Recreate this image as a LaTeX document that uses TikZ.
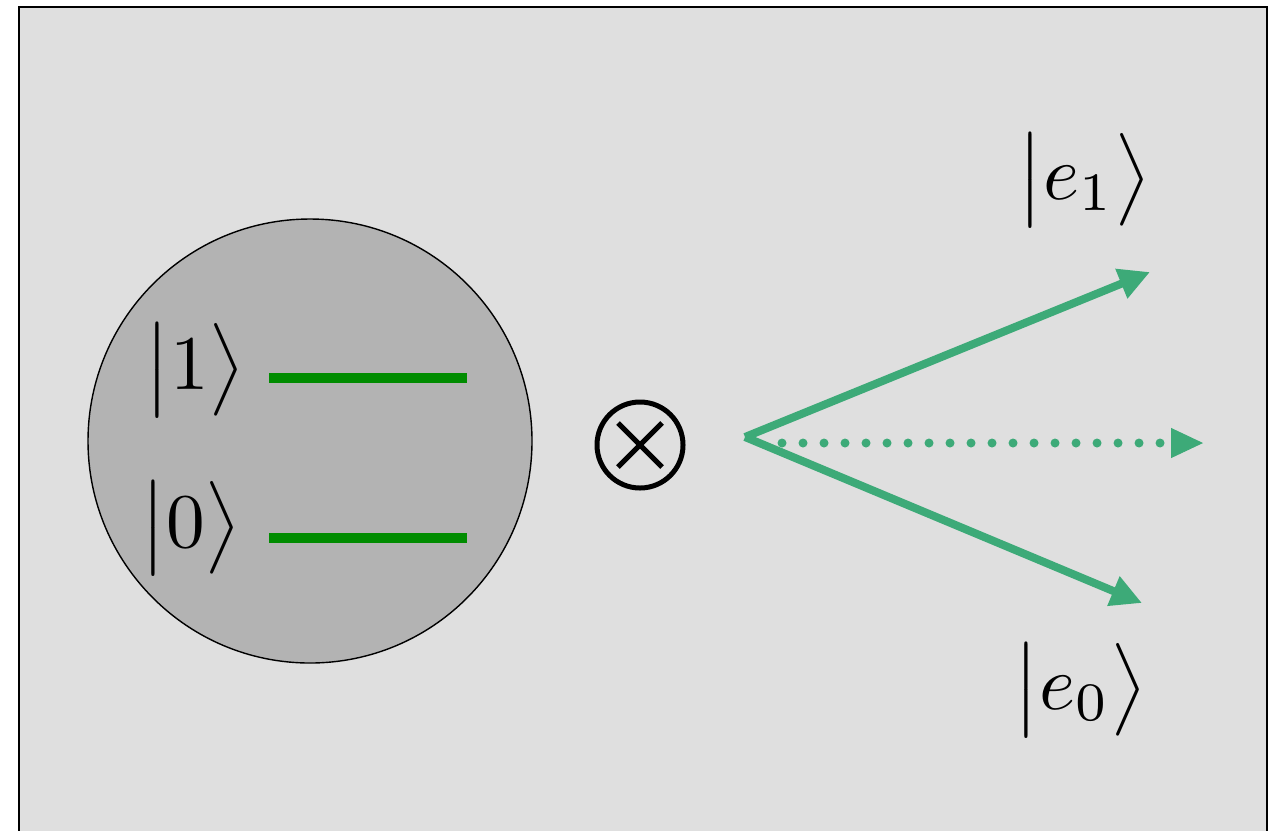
\documentclass[tikz,border=0pt]{standalone}
\usepackage{amsmath}
\usepackage{xcolor}
\usepackage{tikz}
\usetikzlibrary{positioning,calc,arrows.meta}
\definecolor{panel}{HTML}{DFDFDF}
\definecolor{atomgray}{HTML}{B3B3B3}
\definecolor{levelgreen}{HTML}{008C00}
\definecolor{raygreen}{HTML}{3DAA78}
\tikzset{
  ket/.style    = {inner sep=0pt, scale=2.2},
  level/.style  = {levelgreen, line width=0.1cm},
  ray/.style    = {raygreen, line width=0.08cm, -{Triangle[length=0.31cm,width=0.30cm]}},
  dotray/.style = {raygreen, line width=0.09cm, line cap=round,
                   dash pattern=on 0pt off 0.21cm},
  tip/.style    = {raygreen, -{Triangle[length=0.32cm,width=0.30cm]}},
  tensor/.style = {circle, draw, line width=0.05cm, minimum size=0.86cm, inner sep=0pt}
}
\begin{document}
\begin{tikzpicture}
  \useasboundingbox (0,0) rectangle (12.83,8.30);
  % panel, runs off the bottom
  \draw[fill=panel, line width=0.6pt] (0.19,-0.3) rectangle (12.67,8.23);

  % the two-level atom
  \node[circle, draw, fill=atomgray, thin, minimum size=4.44cm, inner sep=0pt] (atom) at (3.10,3.89) {};
  \coordinate (l1a) at (2.69,4.52); \coordinate (l1b) at (4.67,4.52);
  \coordinate (l0a) at (2.69,2.92); \coordinate (l0b) at (4.67,2.92);
  \draw[level] (l1a) -- (l1b);
  \draw[level] (l0a) -- (l0b);
  \node[ket] (k1) at (1.95,4.60) {$\bigl|1\bigr\rangle$};
  \node[ket] (k0) at (1.91,3.02) {$\bigl|0\bigr\rangle$};

  % tensor product sign
  \node[tensor] (prod) at (6.40,3.85) {};
  \draw[line width=0.05cm] ($(prod)+(-0.22,0.22)$) -- ($(prod)+(0.22,-0.22)$);
  \draw[line width=0.05cm] ($(prod)+(-0.22,-0.22)$) -- ($(prod)+(0.22,0.22)$);

  % environment states
  \coordinate (src) at (7.45,3.93);
  \coordinate (up)  at (11.50,5.58);
  \coordinate (dn)  at (11.42,2.27);
  \coordinate (d0)  at (7.82,3.87);
  \coordinate (d1)  at (11.72,3.87);
  \coordinate (mid) at (12.03,3.87);
  \draw[ray] (src) -- (up);
  \draw[ray] (src) -- (dn);
  \draw[dotray] (d0) -- (d1);
  \draw[tip, line width=0.01cm] (d1) -- (mid);
  \node[ket] (e1) at (10.84,6.50) {$\bigl|e_1\bigr\rangle$};
  \node[ket] (e0) at (10.80,1.40) {$\bigl|e_0\bigr\rangle$};
\end{tikzpicture}
\end{document}
